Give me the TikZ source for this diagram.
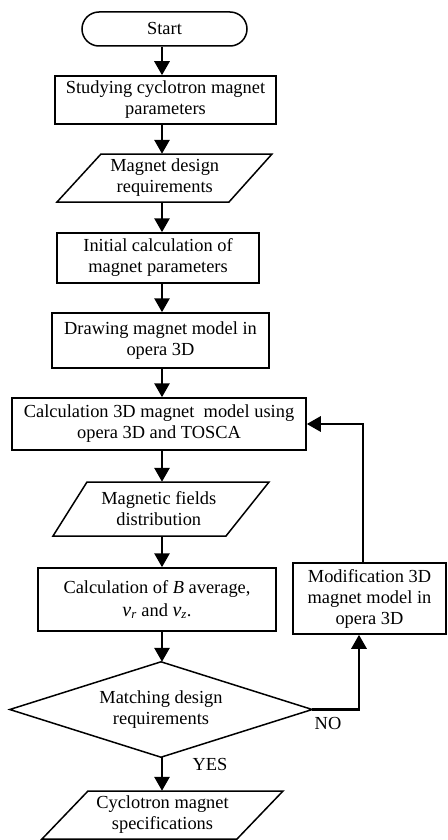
\documentclass[tikz,border=0pt]{standalone}
\usepackage{fontspec}
\setmainfont{Liberation Serif}
\usetikzlibrary{arrows.meta}
\begin{document}
\begin{tikzpicture}[x=1pt,y=-1pt,
  every node/.style={font=\fontsize{18.4}{21}\selectfont, inner sep=0pt, align=center},
  box/.style={draw, line width=1.5pt},
  outline/.style={draw, line width=1.5pt, line join=miter},
  arr/.style={line width=2.8pt, -{Triangle[width=15pt,length=14pt]}},
  lbl/.style={anchor=center}
]
\useasboundingbox (0,0) rectangle (447,840);
\coordinate (axis) at (162,0);
\coordinate (nox) at (359,0);
\coordinate (fbx) at (363,0);

% Start
\node[box, rounded corners=17pt, minimum width=165pt, minimum height=34pt] (start) at (164.5,29) {Start};
% Box1
\node[box, minimum width=221pt, minimum height=48pt] (b1) at (165.5,100) {Studying cyclotron magnet\\parameters};
% Para1
\node[minimum height=48pt] (p1) at (164.75,178) {Magnet design\\requirements};
\draw[outline] (101,154) -- (272,154) -- (229,202) -- (57,202) -- cycle;
% Box2
\node[box, minimum width=202pt, minimum height=50pt] (b2) at (158,258) {Initial calculation of\\magnet parameters};
% Box3
\node[box, minimum width=217pt, minimum height=55pt] (b3) at (160.5,340.5) {Drawing magnet model in\\opera 3D};
% Box4
\node[box, minimum width=294pt, minimum height=52pt] (b4) at (159,424) {Calculation 3D magnet\ \ model using\\opera 3D and TOSCA};
% Para2
\node[minimum height=54pt] (p2) at (158.75,509) {Magnetic fields\\distribution};
\draw[outline] (87,482) -- (269,482) -- (226,536) -- (53,536) -- cycle;
% Box5
\node[box, minimum width=238pt, minimum height=63pt] (b5) at (157,599.5) {Calculation of \textit{B} average,\\[2pt]{\fontsize{20}{21}\selectfont\textit{ν}}\textsubscript{\textit{r}} and {\fontsize{20}{21}\selectfont\textit{ν}}\textsubscript{\textit{z}}.};
% Modification box
\node[box, minimum width=153pt, minimum height=71pt] (m) at (369.5,598.5) {Modification 3D\\magnet model in\\opera 3D};
% Diamond
\node[minimum width=302pt, minimum height=95pt] (d) at (161,709.5) {Matching design\\requirements};
\draw[outline] (d.west) -- (d.north) -- (d.east) -- (d.south) -- cycle;
% Para3
\node[minimum height=48pt] (p3) at (162.5,815) {Cyclotron magnet\\specifications};
\draw[outline] (88,791) -- (283,791) -- (237,839) -- (42,839) -- cycle;

% main flow arrows
\draw[arr] (start.south -| axis) -- (b1.north -| axis);
\draw[arr] (b1.south -| axis) -- (p1.north -| axis);
\draw[arr] (p1.south -| axis) -- (b2.north -| axis);
\draw[arr] (b2.south -| axis) -- (b3.north -| axis);
\draw[arr] (b3.south -| axis) -- (b4.north -| axis);
\draw[arr] (b4.south -| axis) -- (p2.north -| axis);
\draw[arr] (p2.south -| axis) -- (b5.north -| axis);
\draw[arr] (b5.south -| axis) -- (d.north -| axis);
\draw[arr] (d.south -| axis) -- (p3.north -| axis);
% NO branch and feedback
\draw[arr] (d.east) -| (m.south -| nox);
\draw[arr] (m.north -| fbx) |- (b4.east);

% labels
\node[lbl] (no) at (328,723) {NO};
\node[lbl] (yes) at (210,764) {YES};
\end{tikzpicture}
\end{document}
